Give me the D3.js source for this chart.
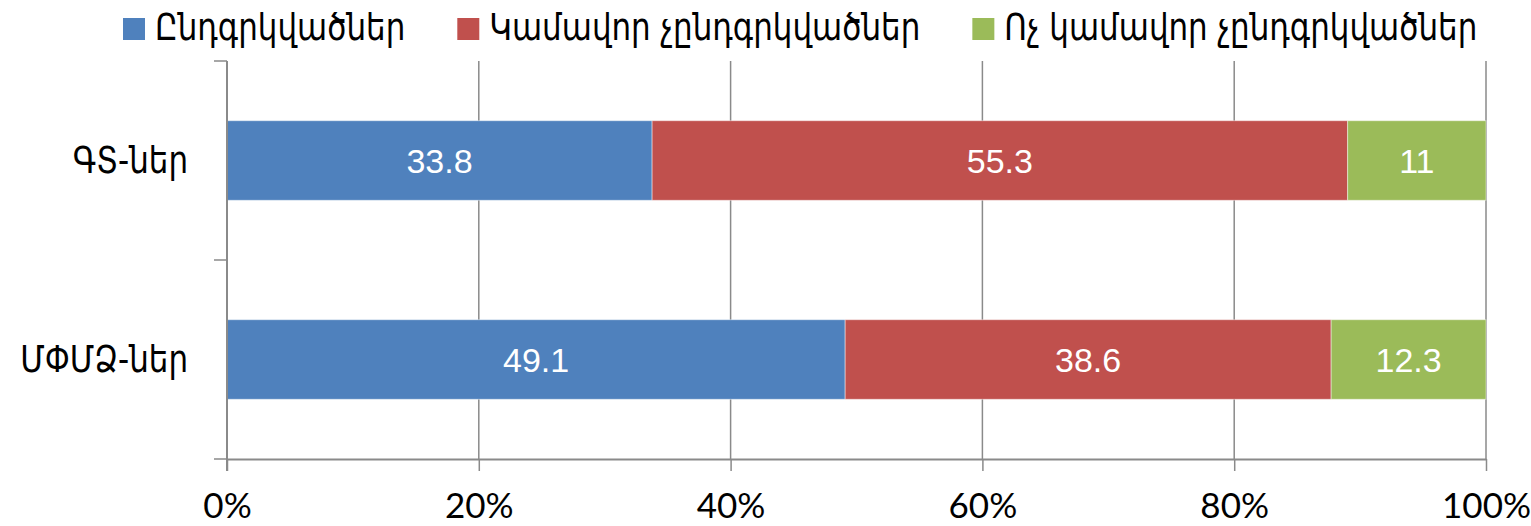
<!DOCTYPE html>
<html>
<head>
<meta charset="utf-8">
<script src="https://cdn.jsdelivr.net/npm/d3@7"></script>
<style>
  html, body { margin: 0; padding: 0; background: #fff; }
  svg { display: block; }
</style>
</head>
<body>
<svg id="chart" width="1531" height="526"></svg>
<script>
// Category rows (top to bottom)
const categories = ["ԳՏ-ներ", "ՄՓՄՁ-ներ"];
// Series names, in stacking order
const seriesNames = ["Ընդգրկվածներ", "Կամավոր չընդգրկվածներ", "Ոչ կամավոր չընդգրկվածներ"];
// Shares for each series, per category
const included = [33.8, 49.1];
const voluntary = [55.3, 38.6];
const involuntary = [11, 12.3];
// Axis tick values and their labels
const tickValues = [0, 0.2, 0.4, 0.6, 0.8, 1];
const tickLabels = ["0%", "20%", "40%", "60%", "80%", "100%"];

const colors = ["#4F81BD", "#C0504D", "#9BBB59"];
const armFont = "'DejaVu Sans Condensed', 'DejaVu Sans', 'Noto Sans', sans-serif";
const armSize = 37;
const armSquish = 0.93;   // narrow the Armenian text horizontally
const numFont = "'Lato', 'Open Sans', sans-serif";
const lblFont = "'Liberation Sans', Arial, sans-serif";

const rows = categories.map((c, i) => ({
  category: c,
  [seriesNames[0]]: included[i],
  [seriesNames[1]]: voluntary[i],
  [seriesNames[2]]: involuntary[i]
}));

const stack = d3.stack().keys(seriesNames).offset(d3.stackOffsetExpand);
const layers = stack(rows);

const svg = d3.select("#chart");
const plot = { left: 227, right: 1486, top: 61, bottom: 459 };

const x = d3.scaleLinear().domain([0, 1]).range([plot.left, plot.right]);
const y = d3.scaleBand().domain(categories).range([plot.top, plot.bottom])
  .paddingInner(0.6).paddingOuter(0.3);

const gridColor = "#8a8a8a";

// Places a condensed Armenian text with its anchor at (tx, ty)
function armText(parent, tx, ty, anchor, str) {
  const g = parent.append("g").attr("transform", `translate(${tx},${ty}) scale(${armSquish},1)`);
  g.append("text")
    .attr("text-anchor", anchor)
    .attr("fill", "#000")
    .style("font-family", armFont)
    .style("font-size", armSize + "px")
    .text(str);
  return g;
}

// Vertical gridlines
svg.append("g").selectAll("line").data(tickValues.slice(1)).join("line")
  .attr("x1", d => x(d)).attr("x2", d => x(d))
  .attr("y1", plot.top).attr("y2", plot.bottom)
  .attr("stroke", gridColor).attr("stroke-width", 1.5);

// Bars
const layerG = svg.append("g").selectAll("g").data(layers).join("g")
  .attr("fill", (d, i) => colors[i]);
layerG.selectAll("rect").data(d => d.map(s => ({ s, key: d.key }))).join("rect")
  .attr("x", d => x(d.s[0]))
  .attr("width", d => x(d.s[1]) - x(d.s[0]))
  .attr("y", d => y(d.s.data.category))
  .attr("height", y.bandwidth())
  .attr("stroke", "#ffffff").attr("stroke-opacity", 0.45).attr("stroke-width", 1);

// Value labels
layerG.selectAll("text").data(d => d.map(s => ({ s, key: d.key }))).join("text")
  .attr("x", d => (x(d.s[0]) + x(d.s[1])) / 2)
  .attr("y", d => y(d.s.data.category) + y.bandwidth() / 2)
  .attr("dy", "0.36em")
  .attr("text-anchor", "middle")
  .attr("fill", "#fff")
  .style("font-family", lblFont)
  .style("font-size", "34px")
  .text(d => d.s.data[d.key]);

// Bottom axis
const xAxis = d3.axisBottom(x).tickValues(tickValues)
  .tickFormat((d, i) => tickLabels[i]).tickSize(12).tickSizeOuter(0).tickPadding(22);
const gx = svg.append("g").attr("transform", `translate(0,${plot.bottom})`).call(xAxis);
gx.select(".domain").attr("stroke", gridColor).attr("stroke-width", 2);
gx.selectAll(".tick line").attr("stroke", gridColor).attr("stroke-width", 1.5);
gx.selectAll(".tick text").attr("fill", "#000")
  .style("font-family", numFont).style("font-size", "35px");

// Left axis: boundary ticks between categories
const yEdges = d3.scaleLinear().domain([0, categories.length]).range([plot.top, plot.bottom]);
const gy = svg.append("g");
gy.append("line").attr("x1", plot.left).attr("x2", plot.left)
  .attr("y1", plot.top).attr("y2", plot.bottom + 12)
  .attr("stroke", gridColor).attr("stroke-width", 2);
gy.selectAll("line.tk").data(d3.range(categories.length + 1)).join("line").attr("class", "tk")
  .attr("x1", plot.left - 13).attr("x2", plot.left)
  .attr("y1", d => yEdges(d)).attr("y2", d => yEdges(d))
  .attr("stroke", gridColor).attr("stroke-width", 1.5);
categories.forEach(c => {
  armText(gy, plot.left - 39, y(c) + y.bandwidth() / 2 + 12, "end", c);
});

// Legend, laid out left to right from measured text widths
const legend = svg.append("g");
const sw = 22, swGap = 10, itemGap = 52, legendTop = 18;
let cursor = 123;
seriesNames.forEach((name, i) => {
  legend.append("rect").attr("x", cursor).attr("y", legendTop)
    .attr("width", sw).attr("height", sw).attr("fill", colors[i]);
  const g = armText(legend, cursor + sw + swGap, legendTop + sw, "start", name);
  const w = g.select("text").node().getComputedTextLength() * armSquish;
  cursor += sw + swGap + w + itemGap;
});
</script>
</body>
</html>
